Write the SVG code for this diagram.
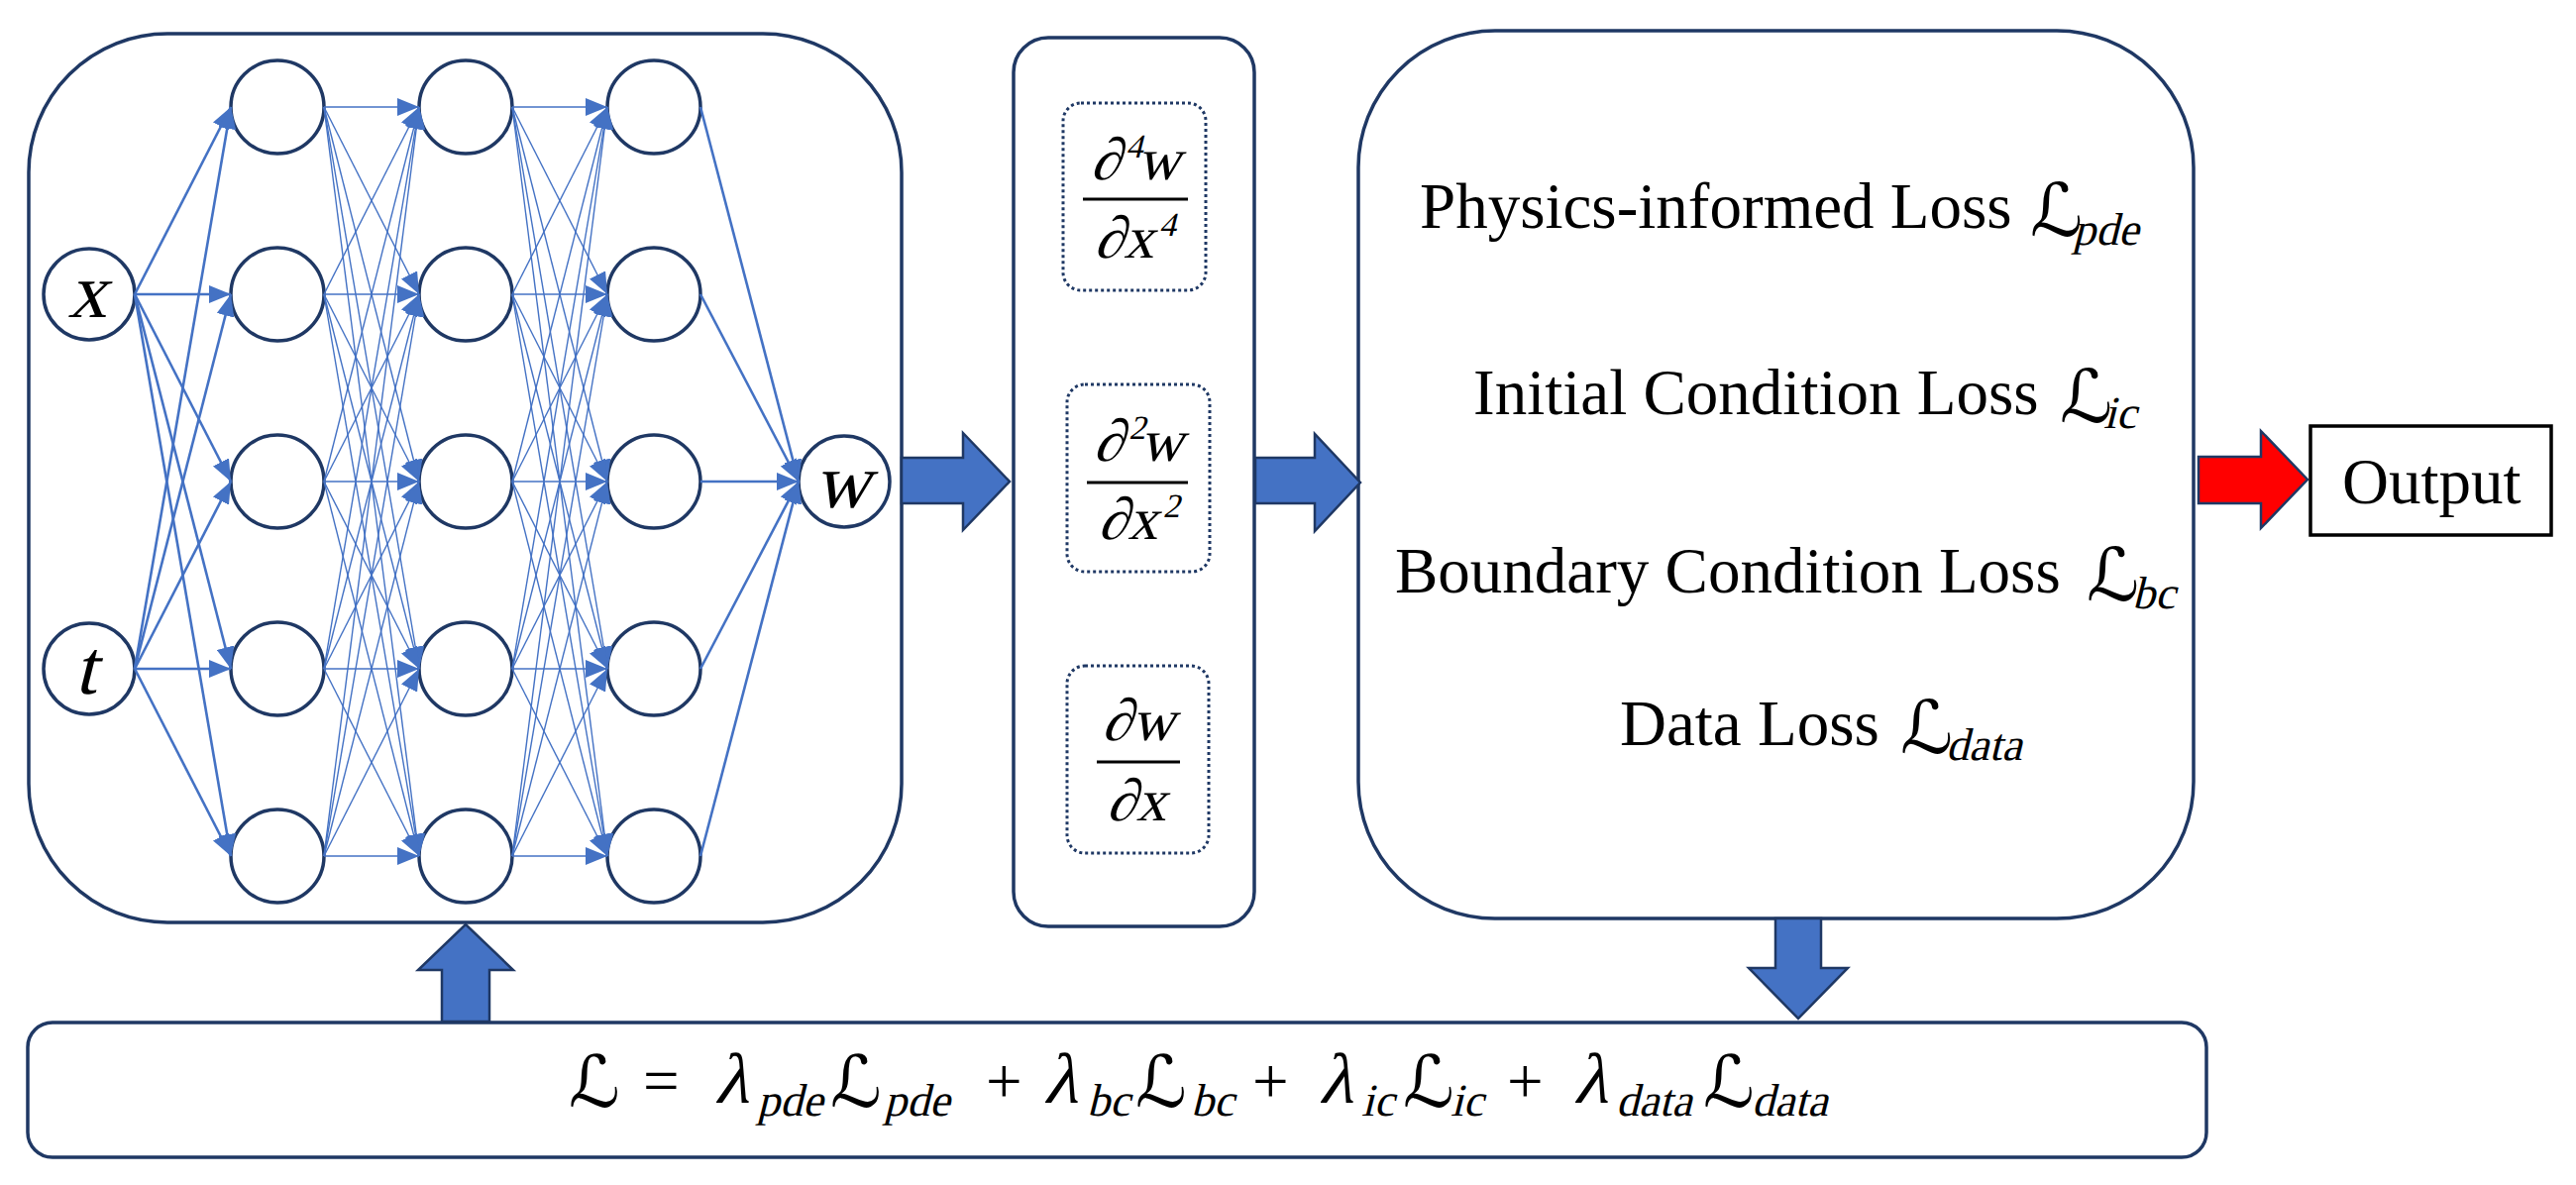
<svg xmlns="http://www.w3.org/2000/svg" xmlns:xlink="http://www.w3.org/1999/xlink" width="2600" height="1196" viewBox="0 0 2600 1196">
<style>
.box{fill:#fff;stroke:#1F3864;stroke-width:3.5}
.node{fill:#fff;stroke:#1F3864;stroke-width:3.5}
.e1{stroke:#4472C4;stroke-width:2.6;fill:none;marker-end:url(#ah)}
.e2{stroke:#4472C4;stroke-width:1.4;fill:none;marker-end:url(#ah)}
.dot{fill:none;stroke:#1F3864;stroke-width:3;stroke-dasharray:3 3}
.blk{fill:#4472C4;stroke:#1F3864;stroke-width:2.5}
.red{fill:#FF0000;stroke:#1F3864;stroke-width:2.5}
.t{font-family:"Liberation Serif",serif;font-size:65px;fill:#000}
.it{font-family:"Liberation Serif",serif;fill:#000}
.sl{font-family:"DejaVu Serif","DejaVu Sans",serif;fill:#000}
.fl{stroke:#000;stroke-width:3}
</style>
<defs>
<marker id="ah" markerUnits="userSpaceOnUse" markerWidth="22" markerHeight="18" refX="22" refY="9" orient="auto">
<path d="M0,0 L22,9 L0,18 z" fill="#4472C4"/>
</marker>
<g id="mesh">
<line x1="327" y1="108" x2="423" y2="108"/><line x1="327" y1="108" x2="423" y2="297"/><line x1="327" y1="108" x2="423" y2="486"/><line x1="327" y1="108" x2="423" y2="675"/><line x1="327" y1="108" x2="423" y2="864"/>
<line x1="327" y1="297" x2="423" y2="108"/><line x1="327" y1="297" x2="423" y2="297"/><line x1="327" y1="297" x2="423" y2="486"/><line x1="327" y1="297" x2="423" y2="675"/><line x1="327" y1="297" x2="423" y2="864"/>
<line x1="327" y1="486" x2="423" y2="108"/><line x1="327" y1="486" x2="423" y2="297"/><line x1="327" y1="486" x2="423" y2="486"/><line x1="327" y1="486" x2="423" y2="675"/><line x1="327" y1="486" x2="423" y2="864"/>
<line x1="327" y1="675" x2="423" y2="108"/><line x1="327" y1="675" x2="423" y2="297"/><line x1="327" y1="675" x2="423" y2="486"/><line x1="327" y1="675" x2="423" y2="675"/><line x1="327" y1="675" x2="423" y2="864"/>
<line x1="327" y1="864" x2="423" y2="108"/><line x1="327" y1="864" x2="423" y2="297"/><line x1="327" y1="864" x2="423" y2="486"/><line x1="327" y1="864" x2="423" y2="675"/><line x1="327" y1="864" x2="423" y2="864"/>
</g>
</defs>

<rect width="2600" height="1196" fill="#fff"/>

<g id="nn-box"><rect class="box" x="29" y="34" width="881" height="897" rx="140" ry="140"/></g>
<g id="deriv-box"><rect class="box" x="1023" y="38" width="243" height="897" rx="35" ry="35"/></g>
<g id="loss-box"><rect class="box" x="1371" y="31" width="843" height="896" rx="138" ry="138"/></g>
<g id="total-loss-box"><rect class="box" x="28" y="1032" width="2199" height="136" rx="25" ry="25"/></g>

<g id="input-x"><circle class="node" cx="90" cy="297" r="46"/><text class="it" transform="translate(88,320) skewX(-14)" font-size="78" text-anchor="middle">x</text></g>
<g id="input-t"><circle class="node" cx="90" cy="675" r="46"/><text class="it" transform="translate(86,700) skewX(-14)" font-size="78" text-anchor="middle">t</text></g>
<g id="hidden-1">
<circle class="node" cx="280" cy="108" r="47"/><circle class="node" cx="280" cy="297" r="47"/><circle class="node" cx="280" cy="486" r="47"/><circle class="node" cx="280" cy="675" r="47"/><circle class="node" cx="280" cy="864" r="47"/>
</g>
<g id="hidden-2">
<circle class="node" cx="470" cy="108" r="47"/><circle class="node" cx="470" cy="297" r="47"/><circle class="node" cx="470" cy="486" r="47"/><circle class="node" cx="470" cy="675" r="47"/><circle class="node" cx="470" cy="864" r="47"/>
</g>
<g id="hidden-3">
<circle class="node" cx="660" cy="108" r="47"/><circle class="node" cx="660" cy="297" r="47"/><circle class="node" cx="660" cy="486" r="47"/><circle class="node" cx="660" cy="675" r="47"/><circle class="node" cx="660" cy="864" r="47"/>
</g>
<g id="output-w"><circle class="node" cx="852" cy="486" r="46"/><text class="it" transform="translate(850,512) skewX(-14)" font-size="78" text-anchor="middle">w</text></g>

<g id="connectors">
<g class="e1">
<line x1="136" y1="297" x2="233" y2="108"/><line x1="136" y1="297" x2="233" y2="297"/><line x1="136" y1="297" x2="233" y2="486"/><line x1="136" y1="297" x2="233" y2="675"/><line x1="136" y1="297" x2="233" y2="864"/>
<line x1="136" y1="675" x2="233" y2="108"/><line x1="136" y1="675" x2="233" y2="297"/><line x1="136" y1="675" x2="233" y2="486"/><line x1="136" y1="675" x2="233" y2="675"/><line x1="136" y1="675" x2="233" y2="864"/>
</g>
<g class="e2">
<use xlink:href="#mesh"/>
<use xlink:href="#mesh" x="190"/>
</g>
<g class="e1">
<line x1="707" y1="108" x2="806" y2="486"/><line x1="707" y1="297" x2="806" y2="486"/><line x1="707" y1="486" x2="806" y2="486"/><line x1="707" y1="675" x2="806" y2="486"/><line x1="707" y1="864" x2="806" y2="486"/>
</g>
<polygon class="blk" points="910,462 972,462 972,437 1019,486 972,535 972,508 910,508"/>
<polygon class="blk" points="1267,462 1327,462 1327,438 1373,487 1327,536 1327,508 1267,508"/>
<polygon class="red" points="2219,461 2282,461 2282,435 2329,484 2282,533 2282,508 2219,508"/>
<polygon class="blk" points="446,1031 446,979 422,979 470,933 518,979 494,979 494,1031"/>
<polygon class="blk" points="1792,927 1838,927 1838,977 1865,977 1815,1028 1765,977 1792,977"/>
</g>

<g id="deriv-4">
<rect class="dot" x="1073" y="104" width="144" height="189" rx="18" ry="18"/>
<text class="it" transform="translate(1146,181) skewX(-14)" font-size="60" text-anchor="middle">∂<tspan font-size="34" dy="-22">4</tspan><tspan dy="22">w</tspan></text>
<line class="fl" x1="1093" y1="201" x2="1199" y2="201"/>
<text class="it" transform="translate(1143,260) skewX(-14)" font-size="60" text-anchor="middle">∂x<tspan font-size="34" dy="-22">4</tspan></text>
</g>
<g id="deriv-2">
<rect class="dot" x="1077" y="388" width="144" height="189" rx="18" ry="18"/>
<text class="it" transform="translate(1149,465) skewX(-14)" font-size="60" text-anchor="middle">∂<tspan font-size="34" dy="-22">2</tspan><tspan dy="22">w</tspan></text>
<line class="fl" x1="1097" y1="487" x2="1199" y2="487"/>
<text class="it" transform="translate(1147,544) skewX(-14)" font-size="60" text-anchor="middle">∂x<tspan font-size="34" dy="-22">2</tspan></text>
</g>
<g id="deriv-1">
<rect class="dot" x="1077" y="672" width="143" height="189" rx="18" ry="18"/>
<text class="it" transform="translate(1149,747) skewX(-14)" font-size="60" text-anchor="middle">∂w</text>
<line class="fl" x1="1107" y1="769" x2="1191" y2="769"/>
<text class="it" transform="translate(1147,828) skewX(-14)" font-size="60" text-anchor="middle">∂x</text>
</g>

<g id="loss-terms">
<text class="t" x="1433" y="230">Physics-informed Loss</text>
<text class="sl" x="2049" y="238" font-size="74">ℒ</text><text class="it" transform="translate(2092,247) skewX(-14)" font-size="46">pde</text>
<text class="t" x="1487" y="418">Initial Condition Loss</text>
<text class="sl" x="2079" y="426" font-size="74">ℒ</text><text class="it" transform="translate(2123,432) skewX(-14)" font-size="46">ic</text>
<text class="t" x="1408" y="598">Boundary Condition Loss</text>
<text class="sl" x="2106" y="606" font-size="74">ℒ</text><text class="it" transform="translate(2152,614) skewX(-14)" font-size="46">bc</text>
<text class="t" x="1635" y="752">Data Loss</text>
<text class="sl" x="1918" y="760" font-size="74">ℒ</text><text class="it" transform="translate(1964,767) skewX(-14)" font-size="46">data</text>
</g>

<g id="output">
<rect x="2332" y="430" width="243" height="110" fill="#fff" stroke="#000" stroke-width="3.5"/>
<text class="t" x="2364" y="508" font-size="64">Output</text>
</g>

<g id="total-loss">
<text class="sl" x="574" y="1117" font-size="72">ℒ</text>
<text class="t" x="649" y="1113" font-size="64">=</text>
<text class="it" transform="translate(721,1113) skewX(-14)" font-size="72">λ</text><text class="it" transform="translate(764,1126) skewX(-14)" font-size="46">pde</text>
<text class="sl" x="838" y="1117" font-size="72">ℒ</text><text class="it" transform="translate(892,1126) skewX(-14)" font-size="46">pde</text>
<text class="t" x="995" y="1113" font-size="64">+</text>
<text class="it" transform="translate(1053,1113) skewX(-14)" font-size="72">λ</text><text class="it" transform="translate(1097,1126) skewX(-14)" font-size="46">bc</text>
<text class="sl" x="1146" y="1117" font-size="72">ℒ</text><text class="it" transform="translate(1202,1126) skewX(-14)" font-size="46">bc</text>
<text class="t" x="1264" y="1113" font-size="64">+</text>
<text class="it" transform="translate(1331,1113) skewX(-14)" font-size="72">λ</text><text class="it" transform="translate(1374,1126) skewX(-14)" font-size="46">ic</text>
<text class="sl" x="1416" y="1117" font-size="72">ℒ</text><text class="it" transform="translate(1464,1126) skewX(-14)" font-size="46">ic</text>
<text class="t" x="1521" y="1113" font-size="64">+</text>
<text class="it" transform="translate(1588,1113) skewX(-14)" font-size="72">λ</text><text class="it" transform="translate(1631,1126) skewX(-14)" font-size="46">data</text>
<text class="sl" x="1719" y="1117" font-size="72">ℒ</text><text class="it" transform="translate(1768,1126) skewX(-14)" font-size="46">data</text>
</g>
</svg>
